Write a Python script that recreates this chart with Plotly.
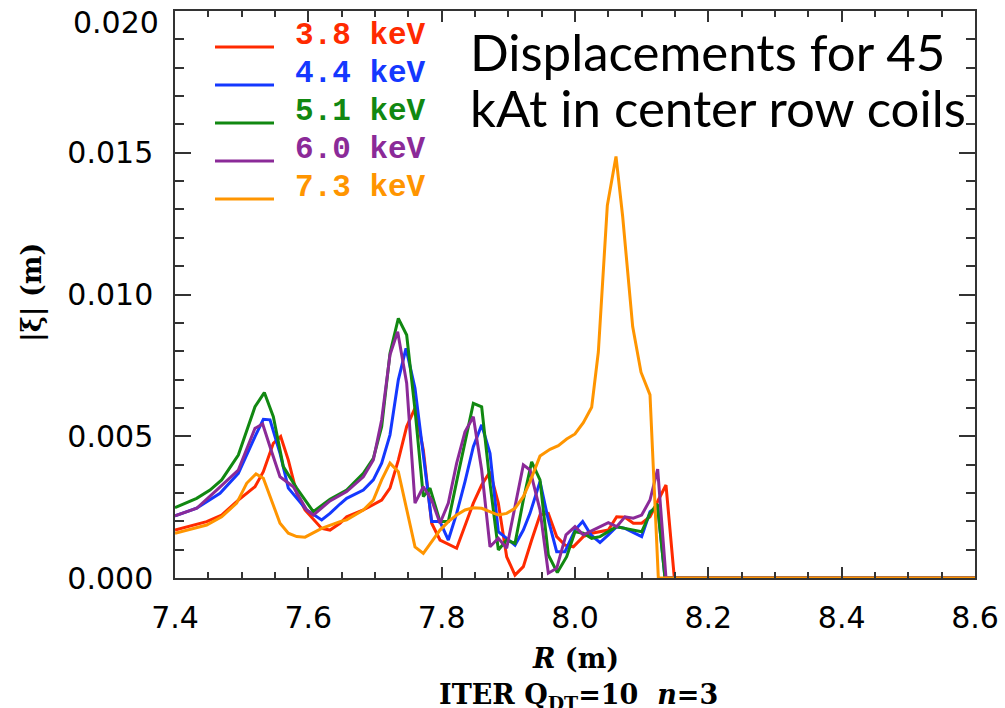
import plotly.graph_objects as go

# ---------------- data (R in m, |xi| in units of 1e-3 m) ----------------
labels = ["3.8 keV", "4.4 keV", "5.1 keV", "6.0 keV", "7.3 keV"]
colors = ["#ff2a00", "#1438ff", "#118811", "#8b2a98", "#ff9500"]

red_pts = [(7.400,1.69),(7.4475,1.99),(7.470,2.22),(7.495,2.75),(7.520,3.22),(7.5325,3.75),
           (7.5475,4.75),(7.5585,4.99),(7.570,4.16),(7.5825,2.99),(7.595,2.40),(7.620,1.75),
           (7.6325,1.69),(7.6475,1.93),(7.6575,2.16),(7.6825,2.40),(7.710,2.75),(7.7225,3.17),
           (7.735,4.16),(7.7475,5.34),(7.760,5.99),(7.7725,4.52),(7.785,1.93),(7.7975,1.34),
           (7.8225,1.05),(7.835,1.81),(7.8475,2.64),(7.860,3.28),(7.8725,3.75),(7.885,2.64),
           (7.8975,0.75),(7.910,0.10),(7.9225,0.40),(7.935,1.34),(7.9475,2.22),(7.960,2.28),
           (7.9725,1.46),(7.985,1.16),(7.9975,1.10),(8.0125,1.46),(8.025,1.58),(8.050,1.69),
           (8.0625,2.16),(8.075,2.14),(8.0875,1.93),(8.100,1.93),(8.1125,2.16),(8.125,2.75),
           (8.1365,3.28),(8.149,0.0),(8.600,0.0)]

blue_pts = [(7.400,2.19),(7.4325,2.46),(7.4675,2.99),(7.495,3.69),(7.520,4.99),(7.5325,5.60),
            (7.5425,5.58),(7.5575,4.40),(7.570,3.17),(7.5975,2.40),(7.620,2.05),(7.6325,2.28),
            (7.6475,2.61),(7.6575,2.81),(7.6825,3.10),(7.6975,3.46),(7.710,4.05),(7.7225,5.05),
            (7.735,6.99),(7.7465,8.10),(7.760,6.69),(7.7725,4.28),(7.785,1.99),(7.7975,1.99),
            (7.810,1.34),(7.8225,2.28),(7.835,3.40),(7.8475,4.63),(7.860,5.40),(7.8725,4.40),
            (7.885,1.63),(7.8975,1.40),(7.910,1.16),(7.9225,1.69),(7.9325,2.28),(7.9475,3.40),
            (7.960,2.05),(7.9725,0.93),(7.985,0.93),(8.000,1.69),(8.0115,1.99),(8.024,1.52),
            (8.0375,1.25),(8.050,1.52),(8.0625,1.81),(8.075,1.75),(8.0875,1.60),(8.100,1.46),
            (8.1125,2.34),(8.124,2.52),(8.135,0.0),(8.600,0.0)]

green_pts = [(7.400,2.48),(7.4325,2.81),(7.4525,3.10),(7.470,3.46),(7.495,4.34),(7.520,6.04),
             (7.534,6.54),(7.5475,5.69),(7.5625,3.93),(7.5825,3.17),(7.6075,2.34),(7.6325,2.78),
             (7.6575,3.10),(7.6825,3.69),(7.6975,4.22),(7.710,5.34),(7.7225,7.93),(7.735,9.16),
             (7.7475,8.57),(7.760,5.93),(7.7725,2.87),(7.7825,3.17),(7.7975,1.99),(7.810,1.99),
             (7.825,3.69),(7.8375,5.11),(7.8475,6.16),(7.860,6.04),(7.8725,3.34),(7.885,0.99),
             (7.8975,1.34),(7.910,1.22),(7.9225,2.75),(7.935,4.10),(7.9475,3.46),(7.960,0.81),
             (7.9735,0.19),(7.9875,0.75),(8.000,1.63),(8.0125,1.58),(8.025,1.40),(8.0375,1.46),
             (8.0625,1.81),(8.075,1.75),(8.100,1.63),(8.1125,2.28),(8.1235,2.61),(8.135,0.0),
             (8.600,0.0)]

purple_pts = [(7.400,2.19),(7.4325,2.46),(7.4625,3.10),(7.495,3.81),(7.520,5.28),(7.5315,5.43),
              (7.5425,4.63),(7.5575,3.57),(7.5775,3.22),(7.5975,2.40),(7.6075,2.22),(7.6325,2.72),
              (7.6575,3.05),(7.6825,3.57),(7.6975,4.16),(7.710,5.58),(7.7225,7.87),(7.734,8.69),
              (7.7475,6.87),(7.760,2.64),(7.7725,3.22),(7.785,2.75),(7.7975,1.93),(7.810,2.64),
              (7.8225,4.05),(7.835,5.16),(7.8475,5.69),(7.860,3.81),(7.8725,1.10),(7.885,1.40),
              (7.8975,1.05),(7.910,2.52),(7.9225,3.99),(7.9325,3.81),(7.9475,2.40),(7.960,0.17),
              (7.9725,0.34),(7.9865,1.52),(8.000,1.81),(8.0125,1.52),(8.0375,1.81),(8.050,1.95),
              (8.0625,1.81),(8.075,2.16),(8.0875,2.11),(8.100,2.22),(8.1125,2.75),(8.124,3.84),
              (8.1365,0.0),(8.600,0.0)]

orange_pts = [(7.400,1.58),(7.4475,1.87),(7.470,2.16),(7.4925,2.64),(7.5075,3.34),(7.5215,3.67),
              (7.5325,3.52),(7.545,2.75),(7.5575,1.93),(7.570,1.58),(7.5825,1.46),(7.595,1.44),
              (7.620,1.75),(7.6475,1.99),(7.6575,2.05),(7.6825,2.40),(7.6975,2.75),(7.710,3.46),
              (7.7225,4.05),(7.735,3.75),(7.7475,2.40),(7.760,1.10),(7.7725,0.87),(7.785,1.28),
              (7.7975,1.69),(7.810,1.99),(7.8225,2.22),(7.835,2.40),(7.8475,2.48),(7.860,2.46),
              (7.8725,2.34),(7.885,2.22),(7.8975,2.28),(7.910,2.46),(7.9225,2.87),(7.9325,3.40),
              (7.9475,4.30),(7.9625,4.54),(7.975,4.67),(7.9875,4.90),(8.000,5.08),(8.0125,5.48),
              (8.025,6.02),(8.035,7.97),(8.0485,13.14),(8.0615,14.87),(8.0715,12.75),(8.0865,8.87),
              (8.099,7.26),(8.1125,6.46),(8.125,0.0),(8.600,0.0)]

series = [red_pts, blue_pts, green_pts, purple_pts, orange_pts]

x_ticks = [7.4, 7.6, 7.8, 8.0, 8.2, 8.4, 8.6]
y_ticks = [0.000, 0.005, 0.010, 0.015, 0.020]

title_lines = ["Displacements for 45", "kAt in center row coils"]

# ---------------- figure ----------------
W, H = 1005, 708
L, R_, T, B = 175, 30, 11, 130
pw, ph = W - L - R_, H - T - B

def px(x):
    return (x - L) / pw

def py(y):
    return (H - B - y) / ph

fig = go.Figure()
for pts, lab, col in zip(series, labels, colors):
    fig.add_trace(go.Scatter(
        x=[p[0] for p in pts], y=[p[1] * 1e-3 for p in pts],
        mode="lines", name=lab, line=dict(color=col, width=3),
        showlegend=False))

tick_font = dict(family="DejaVu Sans", size=30, color="black")
axis_common = dict(
    showline=True, linecolor="#333333", linewidth=1.5, mirror="allticks",
    ticks="inside", tickcolor="#333333", tickwidth=1.5, showgrid=False,
    zeroline=False, tickfont=tick_font,
    ticklabeloverflow="allow", automargin=False,
)

# the top y label is drawn as an annotation slightly below its tick (as in the original)
y_ticktext = [f"{v:.3f}" for v in y_ticks[:-1]] + [""]

fig.update_xaxes(range=[7.4, 8.6], tickvals=x_ticks, tickformat=".1f", ticklen=11,
                 minor=dict(ticks="inside", dtick=0.05, ticklen=6, tickcolor="#333333", tickwidth=1.5),
                 ticklabelstandoff=12, **axis_common)
fig.update_yaxes(range=[0, 0.0200001], tickvals=y_ticks, ticktext=y_ticktext, ticklen=16,
                 minor=dict(ticks="inside", dtick=0.001, ticklen=9, tickcolor="#333333", tickwidth=1.5),
                 ticklabelstandoff=14, **axis_common)

annotations = []
shapes = []

annotations.append(dict(text=f"{y_ticks[-1]:.3f}", xref="paper", yref="paper",
                        x=px(161), y=py(22), xanchor="right", yanchor="middle",
                        showarrow=False, font=tick_font))

# custom legend
for i, (lab, col) in enumerate(zip(labels, colors)):
    yl = 47 + i * 38.0
    shapes.append(dict(type="line", xref="paper", yref="paper",
                       x0=px(215), x1=px(274), y0=py(yl), y1=py(yl),
                       line=dict(color=col, width=3)))
    annotations.append(dict(text=f"<b>{lab}</b>", xref="paper", yref="paper",
                            x=px(293), y=py(yl + 8), xanchor="left", yanchor="bottom",
                            showarrow=False,
                            font=dict(family="Liberation Mono", size=31, color=col)))

# title text
for i, line in enumerate(title_lines):
    annotations.append(dict(text=line, xref="paper", yref="paper",
                            x=px(468), y=py(51 + i * 56), xanchor="left", yanchor="middle",
                            showarrow=False,
                            font=dict(family="Lato", size=51, color="black")))

# axis titles
annotations.append(dict(text="<b><i>R</i> (m)</b>", xref="paper", yref="paper",
                        x=px(575), y=py(658), xanchor="center", yanchor="middle",
                        showarrow=False,
                        font=dict(family="DejaVu Serif", size=27, color="black")))
annotations.append(dict(text="<b>ITER Q<sub>DT</sub>=10  <i>n</i>=3</b>", xref="paper", yref="paper",
                        x=px(437), y=py(677), xanchor="left", yanchor="top",
                        showarrow=False,
                        font=dict(family="DejaVu Serif", size=27, color="black")))
annotations.append(dict(text="<b>|ξ| (m)</b>", xref="paper", yref="paper",
                        x=px(32), y=py(293), xanchor="center", yanchor="middle",
                        textangle=-90, showarrow=False,
                        font=dict(family="DejaVu Serif", size=27, color="black")))

fig.update_layout(
    width=W, height=H, margin=dict(l=L, r=R_, t=T, b=B, pad=0, autoexpand=False),
    paper_bgcolor="white", plot_bgcolor="white",
    annotations=annotations, shapes=shapes, showlegend=False,
)

fig.write_html("out.html")
